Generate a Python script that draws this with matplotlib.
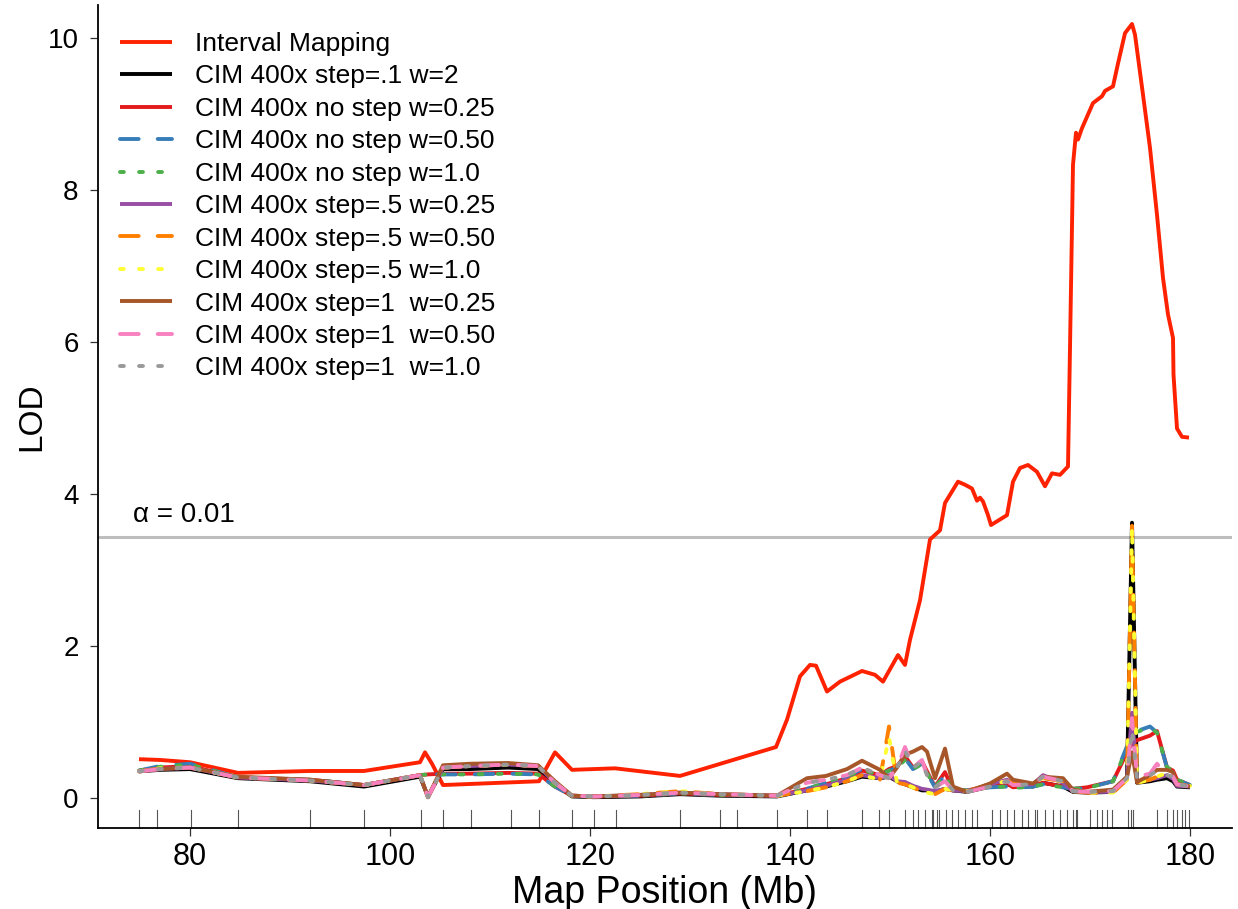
import matplotlib
matplotlib.use("Agg")
import matplotlib.pyplot as plt
import matplotlib.transforms as mtransforms

plt.rcParams['font.family'] = ['Liberation Sans', 'DejaVu Sans']

# ---------------- data ----------------
im_pos = [74.9, 77.0, 80.0, 84.8, 92.0, 97.4, 103.0, 103.5, 104.2, 105.3, 114.9, 116.5, 118.2,
          122.5, 129.0, 138.6, 139.7, 141.0, 142.0, 142.6, 143.7, 145.0, 147.2, 148.5, 149.3,
          150.8, 151.5, 152.0, 153.0, 154.0, 155.0, 155.5, 156.8, 157.5, 158.2, 158.7, 159.0,
          159.3, 159.8, 160.1, 161.7, 162.3, 163.0, 163.8, 164.7, 165.5, 166.2, 167.0, 167.8,
          168.0, 168.3, 168.6, 168.8, 169.2, 169.8, 170.3, 171.2, 171.5, 172.3, 172.8, 173.5,
          174.2, 174.5, 175.3, 176.0, 176.7, 177.3, 177.8, 178.3, 178.35, 178.7, 179.2, 179.9]
im_lod = [0.51, 0.50, 0.47, 0.33, 0.355, 0.355, 0.47, 0.60, 0.45, 0.17, 0.22, 0.60, 0.37,
          0.39, 0.29, 0.67, 1.03, 1.60, 1.75, 1.74, 1.40, 1.53, 1.67, 1.62, 1.53,
          1.88, 1.75, 2.08, 2.60, 3.40, 3.52, 3.88, 4.16, 4.12, 4.07, 3.91, 3.95,
          3.90, 3.72, 3.59, 3.72, 4.16, 4.34, 4.38, 4.29, 4.10, 4.27, 4.25, 4.36,
          5.92, 8.33, 8.75, 8.66, 8.81, 8.99, 9.14, 9.23, 9.30, 9.36, 9.66, 10.06,
          10.18, 10.04, 9.25, 8.55, 7.67, 6.84, 6.36, 6.05, 5.57, 4.86, 4.75, 4.74]

cim_pos = [74.9, 77.0, 80.0, 84.8, 92.0, 97.4, 103.0, 103.8, 105.3, 108.0, 111.8, 114.8, 116.5,
           118.2, 120.4, 125.0, 129.0, 133.0, 138.7, 141.7, 143.6, 145.7, 147.2, 149.0, 149.9,
           150.7, 151.5, 152.3, 153.2, 153.7, 154.5, 155.5, 156.3, 157.7, 160.0, 161.7, 162.3,
           164.3, 165.3, 167.3, 168.3, 169.7, 172.3, 173.7, 174.2, 174.7, 176.0, 176.7, 177.7,
           178.3, 178.7, 180.0]

cim_s01_w2 = [0.35, 0.37, 0.38, 0.26, 0.22, 0.15, 0.28, 0.02, 0.38, 0.38, 0.40, 0.38, 0.18,
              0.02, 0.01, 0.02, 0.05, 0.03, 0.02, 0.10, 0.15, 0.22, 0.28, 0.26, 0.28,
              0.22, 0.18, 0.14, 0.10, 0.10, 0.08, 0.12, 0.10, 0.08, 0.15, 0.18, 0.16,
              0.15, 0.20, 0.15, 0.08, 0.07, 0.08, 0.25, 3.62, 0.20, 0.22, 0.24, 0.26,
              0.22, 0.15, 0.14]
cim_ns_w025 = [0.36, 0.40, 0.42, 0.27, 0.24, 0.17, 0.30, 0.31, 0.32, 0.32, 0.33, 0.32, 0.15,
               0.03, 0.02, 0.03, 0.06, 0.04, 0.03, 0.12, 0.18, 0.26, 0.36, 0.30, 0.38,
               0.42, 0.55, 0.40, 0.48, 0.35, 0.15, 0.34, 0.10, 0.10, 0.15, 0.19, 0.14,
               0.17, 0.20, 0.15, 0.12, 0.14, 0.22, 0.60, 0.72, 0.76, 0.82, 0.88, 0.40,
               0.36, 0.24, 0.17]
cim_ns_w050 = [0.36, 0.42, 0.45, 0.27, 0.24, 0.17, 0.30, 0.31, 0.31, 0.31, 0.32, 0.31, 0.15,
               0.03, 0.02, 0.03, 0.06, 0.04, 0.03, 0.12, 0.20, 0.28, 0.38, 0.30, 0.36,
               0.40, 0.52, 0.38, 0.45, 0.33, 0.14, 0.30, 0.10, 0.10, 0.14, 0.15, 0.13,
               0.15, 0.18, 0.14, 0.12, 0.13, 0.22, 0.68, 0.85, 0.88, 0.94, 0.86, 0.40,
               0.36, 0.24, 0.17]
cim_ns_w10 = [0.36, 0.41, 0.44, 0.27, 0.24, 0.17, 0.30, 0.31, 0.31, 0.31, 0.32, 0.31, 0.15,
              0.03, 0.02, 0.03, 0.06, 0.04, 0.03, 0.12, 0.20, 0.27, 0.37, 0.30, 0.36,
              0.40, 0.50, 0.38, 0.45, 0.33, 0.14, 0.30, 0.10, 0.10, 0.14, 0.15, 0.13,
              0.15, 0.18, 0.14, 0.12, 0.13, 0.22, 0.66, 0.84, 0.87, 0.92, 0.86, 0.40,
              0.36, 0.24, 0.17]
cim_s05_w025 = [0.35, 0.38, 0.40, 0.27, 0.23, 0.17, 0.30, 0.01, 0.40, 0.42, 0.44, 0.42, 0.20,
                0.03, 0.02, 0.04, 0.07, 0.05, 0.03, 0.10, 0.16, 0.24, 0.30, 0.26, 0.30,
                0.22, 0.21, 0.16, 0.12, 0.11, 0.09, 0.12, 0.10, 0.09, 0.18, 0.24, 0.18,
                0.18, 0.30, 0.20, 0.09, 0.08, 0.08, 0.26, 1.12, 0.22, 0.24, 0.26, 0.30,
                0.25, 0.16, 0.15]
cim_s05_w050 = [0.35, 0.39, 0.40, 0.27, 0.23, 0.17, 0.30, 0.01, 0.40, 0.42, 0.44, 0.42, 0.20,
                0.03, 0.02, 0.05, 0.09, 0.05, 0.03, 0.09, 0.14, 0.22, 0.30, 0.24, 0.94,
                0.20, 0.18, 0.14, 0.08, 0.07, 0.05, 0.12, 0.10, 0.09, 0.18, 0.22, 0.20,
                0.20, 0.26, 0.22, 0.09, 0.07, 0.07, 0.24, 3.58, 0.20, 0.24, 0.28, 0.33,
                0.30, 0.18, 0.16]
cim_s05_w10 = [0.35, 0.39, 0.40, 0.27, 0.23, 0.17, 0.30, 0.01, 0.40, 0.42, 0.44, 0.42, 0.20,
               0.03, 0.02, 0.05, 0.09, 0.05, 0.03, 0.09, 0.14, 0.22, 0.30, 0.24, 0.80,
               0.20, 0.18, 0.14, 0.08, 0.07, 0.05, 0.12, 0.10, 0.09, 0.18, 0.22, 0.20,
               0.20, 0.26, 0.22, 0.09, 0.07, 0.07, 0.24, 3.56, 0.20, 0.24, 0.28, 0.33,
               0.30, 0.18, 0.16]
cim_s1_w025 = [0.35, 0.38, 0.40, 0.28, 0.24, 0.17, 0.30, 0.01, 0.43, 0.45, 0.46, 0.43, 0.22,
               0.03, 0.02, 0.04, 0.07, 0.05, 0.03, 0.26, 0.29, 0.38, 0.49, 0.37, 0.26,
               0.40, 0.57, 0.61, 0.67, 0.61, 0.26, 0.65, 0.15, 0.08, 0.19, 0.32, 0.24,
               0.19, 0.28, 0.26, 0.11, 0.08, 0.11, 0.28, 0.60, 0.21, 0.30, 0.37, 0.37,
               0.34, 0.19, 0.15]
cim_s1_w050 = [0.35, 0.38, 0.40, 0.27, 0.23, 0.17, 0.30, 0.01, 0.40, 0.42, 0.44, 0.42, 0.20,
               0.03, 0.02, 0.04, 0.07, 0.05, 0.03, 0.20, 0.24, 0.30, 0.40, 0.30, 0.26,
               0.40, 0.67, 0.40, 0.50, 0.30, 0.14, 0.22, 0.10, 0.08, 0.15, 0.22, 0.17,
               0.18, 0.28, 0.22, 0.09, 0.08, 0.09, 0.26, 1.05, 0.28, 0.32, 0.45, 0.30,
               0.28, 0.18, 0.15]
cim_s1_w10 = [0.35, 0.38, 0.40, 0.27, 0.23, 0.17, 0.30, 0.01, 0.40, 0.42, 0.44, 0.42, 0.20,
              0.03, 0.02, 0.04, 0.07, 0.05, 0.03, 0.20, 0.24, 0.30, 0.40, 0.30, 0.26,
              0.40, 0.62, 0.40, 0.48, 0.30, 0.14, 0.22, 0.10, 0.08, 0.15, 0.22, 0.17,
              0.18, 0.28, 0.22, 0.09, 0.08, 0.09, 0.26, 0.90, 0.26, 0.30, 0.36, 0.30,
              0.28, 0.18, 0.15]

marker_pos = [74.9, 76.7, 80.07, 84.8, 92.0, 97.4, 103.07, 105.3, 108.07, 112.07, 114.87,
              118.17, 120.4, 122.6, 129.0, 133.0, 134.7, 138.7, 141.7, 143.7, 147.2, 148.9,
              149.9, 151.5, 152.3, 152.8, 153.5, 154.2, 154.3, 154.7, 154.9, 155.6, 156.2,
              156.8, 157.5, 158.2, 158.7, 160.2, 161.0, 161.7, 162.4, 163.2, 163.8, 164.5,
              164.7, 165.5, 166.3, 167.0, 167.7, 168.3, 168.6, 168.7, 170.0, 170.7, 171.2,
              171.7, 172.2, 173.8, 174.1, 174.3, 176.7, 177.7, 178.3, 178.7, 179.2, 179.5,
              179.9]

labels = ["Interval Mapping", "CIM 400x step=.1 w=2", "CIM 400x no step w=0.25",
          "CIM 400x no step w=0.50", "CIM 400x no step w=1.0", "CIM 400x step=.5 w=0.25",
          "CIM 400x step=.5 w=0.50", "CIM 400x step=.5 w=1.0", "CIM 400x step=1  w=0.25",
          "CIM 400x step=1  w=0.50", "CIM 400x step=1  w=1.0"]
colors = ["#FF2200", "#000000", "#E41A1C", "#377EB8", "#4DAF4A", "#984EA3", "#FF7F00",
          "#FFFF33", "#A65628", "#F781BF", "#999999"]
threshold = 3.43

# ---------------- figure ----------------
fig = plt.figure(figsize=(12.38, 9.09), dpi=100)
ax = fig.add_axes([98 / 1238, 81 / 909, (1232 - 98) / 1238, (828 - 5) / 909])

LW = 2.8
solid = '-'
dashed = (0, (4.8, 4.9))
dotted = (0, (1.0, 3.9))
styles = [solid, solid, solid, dashed, dotted, solid, dashed, dotted, solid, dashed, dotted]

series = [(im_pos, im_lod)] + [(cim_pos, s) for s in
          [cim_s01_w2, cim_ns_w025, cim_ns_w050, cim_ns_w10, cim_s05_w025, cim_s05_w050,
           cim_s05_w10, cim_s1_w025, cim_s1_w050, cim_s1_w10]]

handles = []
for (xs, ys), lab, col, ls in zip(series, labels, colors, styles):
    h, = ax.plot(xs, ys, color=col, lw=LW, linestyle=ls, label=lab,
                 dash_capstyle='round', solid_capstyle='butt', solid_joinstyle='round')
    handles.append(h)

# threshold line
ax.axhline(threshold, color='#BEBEBE', lw=2.2, zorder=0.5)
ax.text(74.3, threshold + 0.12, "\u03b1 = 0.01", fontsize=20, ha='left', va='bottom')

# rug of marker positions
trans = mtransforms.blended_transform_factory(ax.transData, ax.transAxes)
for m in marker_pos:
    ax.plot([m, m], [0, 0.022], color='#555555', lw=0.8, transform=trans, clip_on=False)

ax.set_xlim(70.8, 184.2)
ax.set_ylim(-0.395, 10.43)
ax.set_xticks([80, 100, 120, 140, 160, 180])
ax.set_yticks([0, 2, 4, 6, 8, 10])
for s in ['top', 'right']:
    ax.spines[s].set_visible(False)
for s in ['left', 'bottom']:
    ax.spines[s].set_linewidth(1.3)
ax.tick_params(axis='both', direction='out', length=6, width=0.9, color='#333333')
ax.tick_params(axis='y', labelsize=20, pad=8)
ax.tick_params(axis='x', labelsize=22, pad=4)

ax.set_xlabel("Map Position (Mb)", fontsize=27, labelpad=2)
ax.set_ylabel("LOD", fontsize=24, labelpad=0)

leg = ax.legend(handles=handles, loc='upper left', frameon=False, fontsize=19,
                handlelength=1.97, handletextpad=0.87, labelspacing=0.32,
                borderaxespad=0.0, borderpad=0.0)
leg.set_bbox_to_anchor((22 / 1134, 1 - 27 / 823), transform=ax.transAxes)

fig.savefig("out.png", dpi=100)
